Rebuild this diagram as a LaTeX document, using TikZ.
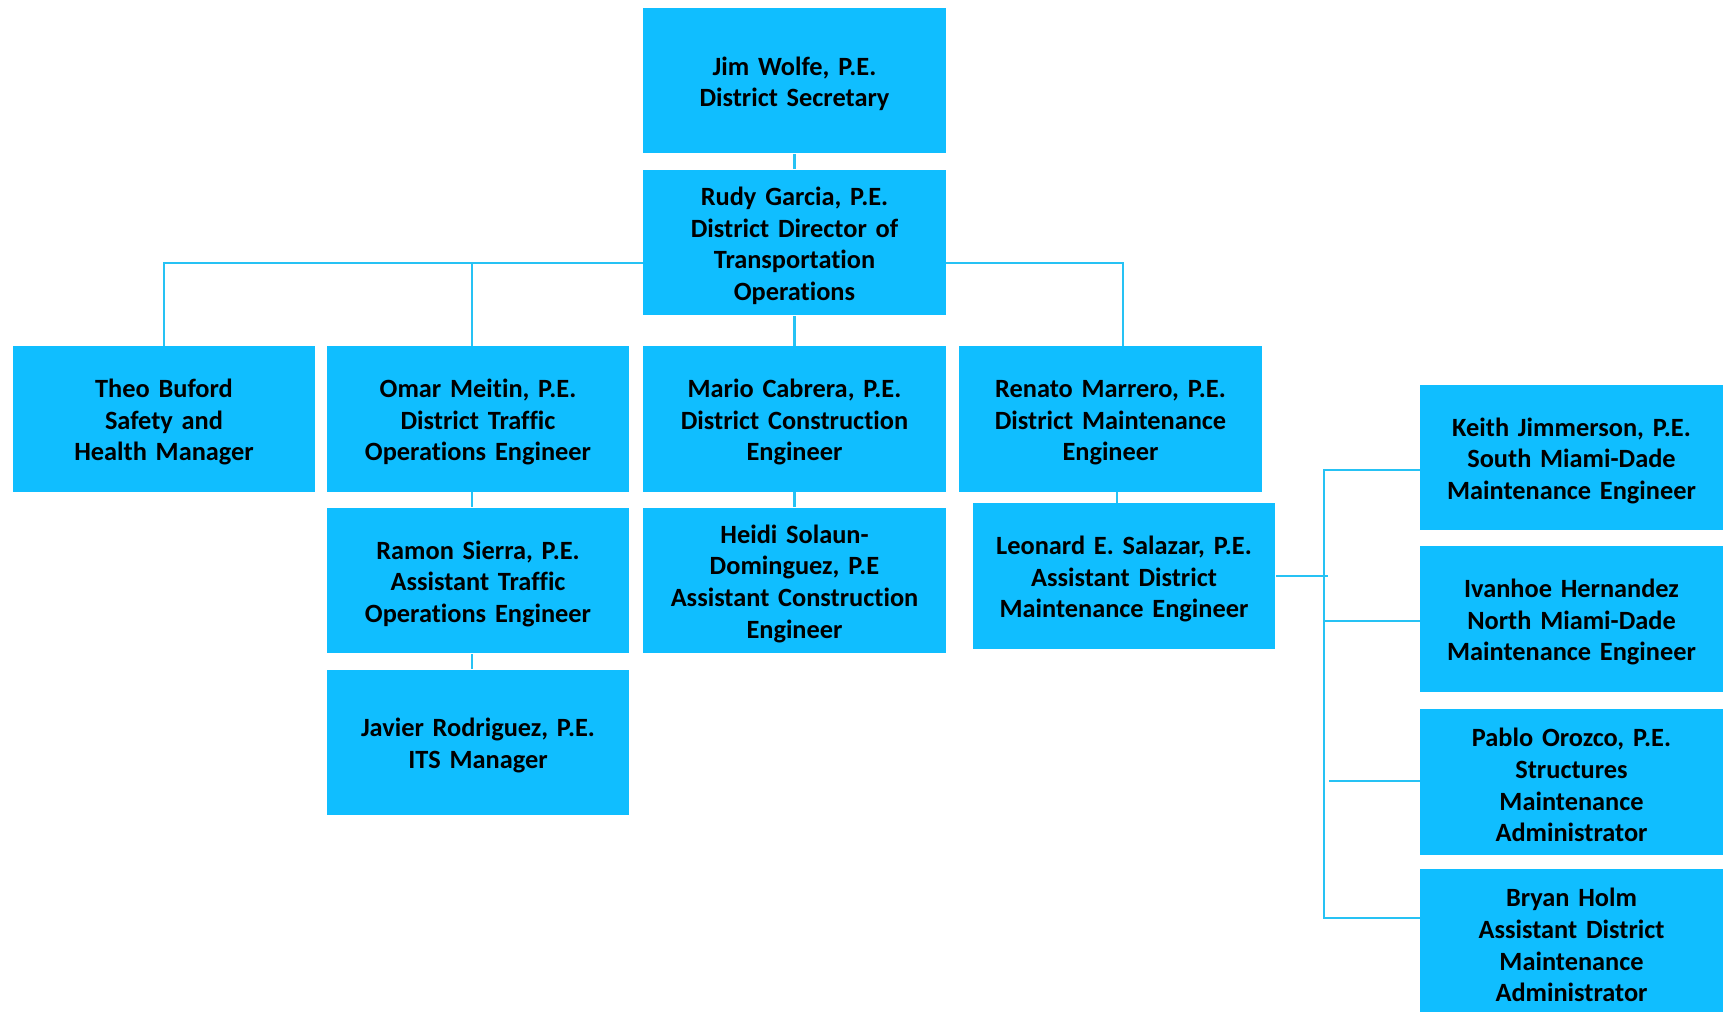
\documentclass[tikz,border=0pt]{standalone}
\usepackage{fontspec}
\setmainfont{Carlito}[Ligatures=NoCommon]
\usetikzlibrary{calc}

\definecolor{boxblue}{RGB}{16,190,255}
\definecolor{lineblue}{RGB}{38,194,244}

\begin{document}
\begin{tikzpicture}[x=0.02cm, y=-0.02cm,
  person/.style={fill=boxblue, draw=none, inner sep=0pt,
    minimum width=\boxw, minimum height=\boxh, text width=\boxw-8,
    align=center, font=\fontsize{15}{18}\selectfont\bfseries,
    execute at begin node={\rule{0pt}{0.95em}}},
  link/.style={draw=lineblue, line width=1.4pt}]
  \def\boxw{6.06cm}
  \def\boxh{2.92cm}

  \useasboundingbox (0,0) rectangle (1727,1011);
  \clip (0,0) rectangle (1727,1011);

  % top of the chart
  \node[person] (jim) at (794.5,80.5) {Jim Wolfe, P.E.\\District Secretary};
  \node[person] (rudy) at (794.5,242.5) {Rudy Garcia, P.E.\\District Director of\\Transportation\\Operations};

  % second row
  \node[person] (theo) at (164,419) {Theo Buford\\Safety and\\Health Manager};
  \node[person] (omar) at (478,419) {Omar Meitin, P.E.\\District Traffic\\Operations Engineer};
  \node[person] (mario) at (794.5,419) {Mario Cabrera, P.E.\\District Construction\\Engineer};
  \node[person] (renato) at (1110.5,419) {Renato Marrero, P.E.\\District Maintenance\\Engineer};

  % below the second row
  \node[person] (ramon) at (478,580.5) {Ramon Sierra, P.E.\\Assistant Traffic\\Operations Engineer};
  \node[person] (javier) at (478,742.5) {Javier Rodriguez, P.E.\\ITS Manager};
  \node[person] (heidi) at (794.5,580.5) {Heidi Solaun-\\Dominguez, P.E\\Assistant Construction\\Engineer};
  \node[person] (leonard) at (1124,576) {Leonard E. Salazar, P.E.\\Assistant District\\Maintenance Engineer};

  % maintenance column
  \node[person] (keith) at (1571.5,457.5) {Keith Jimmerson, P.E.\\South Miami-Dade\\Maintenance Engineer};
  \node[person] (ivanhoe) at (1571.5,619) {Ivanhoe Hernandez\\North Miami-Dade\\Maintenance Engineer};
  \node[person] (pablo) at (1571.5,782) {Pablo Orozco, P.E.\\Structures\\Maintenance\\Administrator};
  \node[person] (bryan) at (1571.5,942) {Bryan Holm\\Assistant District\\Maintenance\\Administrator};

  \coordinate (bar) at (1123,263);
  \coordinate (spine) at (1324,470);

  \draw[link] (jim.south) -- (rudy.north);
  \draw[link] (rudy.west |- bar) -| (theo.north);
  \draw[link] (omar.north -| 472,0) -- (472,263);
  \draw[link] (rudy.east |- bar) -- (bar) -- (bar |- renato.north);
  \draw[link] (rudy.south) -- (mario.north);
  \draw[link] (omar.south -| 472,0) -- (ramon.north -| 472,0);
  \draw[link] (ramon.south -| 472,0) -- (javier.north -| 472,0);
  \draw[link] (mario.south) -- (heidi.north);
  \draw[link] (renato.south -| 1117,0) -- (leonard.north -| 1117,0);

  \draw[link] (leonard.east) -- (1328,576);
  \draw[link] (keith.west |- spine) -- (spine) -- (1324,918) -- (bryan.west |- 0,918);
  \draw[link] (1324,621) -- (ivanhoe.west |- 0,621);
  \draw[link] (1329,781) -- (pablo.west |- 0,781);
\end{tikzpicture}
\end{document}
